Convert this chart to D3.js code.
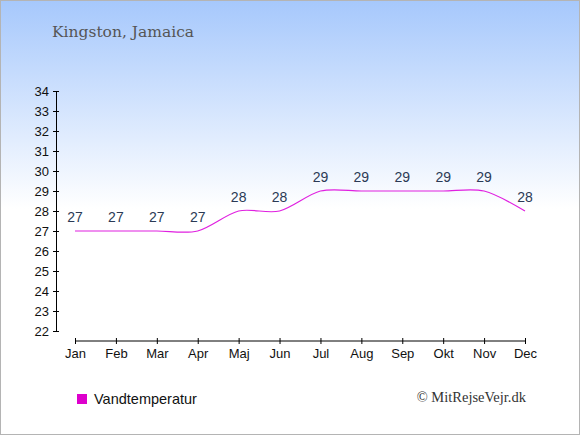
<!DOCTYPE html>
<html>
<head>
<meta charset="utf-8">
<script src="https://cdn.jsdelivr.net/npm/d3@7"></script>
<style>
  body { margin: 0; padding: 0; }
  svg { display: block; }
</style>
</head>
<body>
<div id="chart"></div>
<script>
// Data
const months = ["Jan", "Feb", "Mar", "Apr", "Maj", "Jun", "Jul", "Aug", "Sep", "Okt", "Nov", "Dec"];
const waterTemp = [27, 27, 27, 27, 28, 28, 29, 29, 29, 29, 29, 28];
const yTicks = [22, 23, 24, 25, 26, 27, 28, 29, 30, 31, 32, 33, 34];

const W = 580, H = 435;

const svg = d3.select("#chart")
  .append("svg")
  .attr("width", W)
  .attr("height", H);

// Background gradient
const defs = svg.append("defs");
const grad = defs.append("linearGradient")
  .attr("id", "bg")
  .attr("x1", 0).attr("y1", 0).attr("x2", 0).attr("y2", 1);
grad.append("stop").attr("offset", "0%").attr("stop-color", "#a6c8fc");
grad.append("stop").attr("offset", "48%").attr("stop-color", "#ffffff");
grad.append("stop").attr("offset", "100%").attr("stop-color", "#ffffff");

svg.append("rect")
  .attr("x", 0.5).attr("y", 0.5)
  .attr("width", W - 1).attr("height", H - 1)
  .attr("fill", "url(#bg)")
  .attr("stroke", "#b4b4b4")
  .attr("stroke-width", 1);

// Scales
const x = d3.scalePoint()
  .domain(months)
  .range([75, 525]);

const y = d3.scaleLinear()
  .domain([22, 34])
  .range([331, 91]);

// Title
svg.append("text")
  .attr("x", 52)
  .attr("y", 37)
  .attr("font-family", "'DejaVu Serif', 'Liberation Serif', serif")
  .attr("font-size", 15.5)
  .attr("fill", "#555")
  .text("Kingston, Jamaica");

// Y axis
const yAxis = svg.append("g")
  .attr("transform", "translate(56,0)")
  .call(d3.axisLeft(y).tickValues(yTicks).tickSize(3).tickPadding(4).tickFormat(d3.format("d")));
yAxis.select(".domain").attr("stroke", "#000");
yAxis.selectAll(".tick line").attr("x1", 3).attr("x2", -3).attr("stroke", "#000");
yAxis.selectAll("text")
  .attr("font-family", "'Liberation Sans', Arial, sans-serif")
  .attr("font-size", 13)
  .attr("fill", "#111");

// X axis
const xAxis = svg.append("g")
  .attr("transform", "translate(0,341)")
  .call(d3.axisBottom(x).tickSize(3).tickPadding(5));
xAxis.select(".domain").attr("d", `M${x("Jan")},0H${x("Dec")}`).attr("stroke", "#000");
xAxis.selectAll(".tick line").attr("y1", -3).attr("y2", 3).attr("stroke", "#000");
xAxis.selectAll("text")
  .attr("font-family", "'Liberation Sans', Arial, sans-serif")
  .attr("font-size", 13)
  .attr("fill", "#111");

// Line
const line = d3.line()
  .x((d, i) => x(months[i]))
  .y(d => y(d))
  .curve(d3.curveCardinal.tension(0.1));

svg.append("path")
  .datum(waterTemp)
  .attr("d", line)
  .attr("fill", "none")
  .attr("stroke", "#e020e0")
  .attr("stroke-width", 1.2);

// Value labels
svg.selectAll(".val")
  .data(waterTemp)
  .enter().append("text")
  .attr("class", "val")
  .attr("x", (d, i) => x(months[i]))
  .attr("y", d => y(d) - 9)
  .attr("text-anchor", "middle")
  .attr("font-family", "'Liberation Sans', Arial, sans-serif")
  .attr("font-size", 14)
  .attr("fill", "#2b3a55")
  .text(d => d);

// Legend
svg.append("rect")
  .attr("x", 77).attr("y", 394)
  .attr("width", 10).attr("height", 10)
  .attr("fill", "#dd00cc");

svg.append("text")
  .attr("x", 94)
  .attr("y", 404)
  .attr("font-family", "'Liberation Sans', Arial, sans-serif")
  .attr("font-size", 14.5)
  .attr("fill", "#111")
  .text("Vandtemperatur");

svg.append("text")
  .attr("x", 526)
  .attr("y", 402)
  .attr("text-anchor", "end")
  .attr("font-family", "'Liberation Serif', 'DejaVu Serif', serif")
  .attr("font-size", 14.5)
  .attr("fill", "#333")
  .text("© MitRejseVejr.dk");
</script>
</body>
</html>
